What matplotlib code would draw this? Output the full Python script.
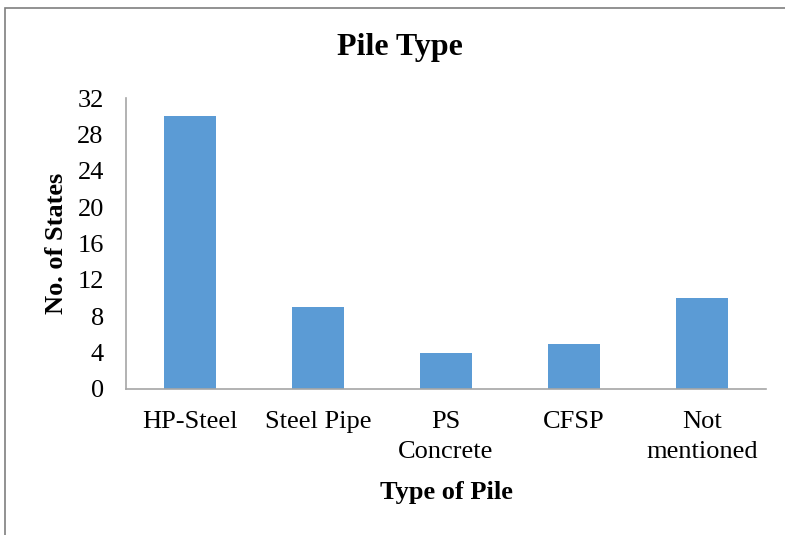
import matplotlib.pyplot as plt
from matplotlib.patches import Rectangle
import numpy as np

plt.rcParams['font.family'] = ['Liberation Serif', 'DejaVu Serif']

# data
pile_types = ['HP-Steel', 'Steel Pipe', 'PS\nConcrete', 'CFSP', 'Not\nmentioned']
num_states = [30, 9, 4, 5, 10]
y_ticks = [0, 4, 8, 12, 16, 20, 24, 28, 32]

fig = plt.figure(figsize=(7.85, 5.35), dpi=100)
ax = fig.add_axes([0.1605, 0.2729, 0.8153, 0.5439])

# chart border (runs off the right and bottom edges)
fig.patches.append(Rectangle((5 / 785, -0.05), 1.1, 1 - 8 / 535 + 0.05,
                             transform=fig.transFigure, fill=False,
                             edgecolor='#7f7f7f', linewidth=1.2))

x = np.arange(len(pile_types))
ax.bar(x, num_states, width=0.4, color='#5B9BD5')

ax.set_xlim(-0.5, len(pile_types) - 0.5)
ax.set_ylim(0, 32)
ax.set_yticks(y_ticks)
ax.set_xticks(x)
ax.set_xticklabels(pile_types, fontsize=19, linespacing=1.45)
ax.tick_params(axis='y', labelsize=19, length=0, pad=16)
ax.tick_params(axis='x', length=0, pad=16)

for side in ['top', 'right']:
    ax.spines[side].set_visible(False)
for side in ['left', 'bottom']:
    ax.spines[side].set_color('#a6a6a6')
    ax.spines[side].set_linewidth(1.2)

fig.text(0.51, 0.912, 'Pile Type', ha='center', va='center',
         fontsize=23, fontweight='bold')
ax.set_xlabel('Type of Pile', fontsize=19, fontweight='bold', labelpad=13)
ax.set_ylabel('No. of States', fontsize=19, fontweight='bold', labelpad=7)

fig.savefig('out.png', dpi=100)
